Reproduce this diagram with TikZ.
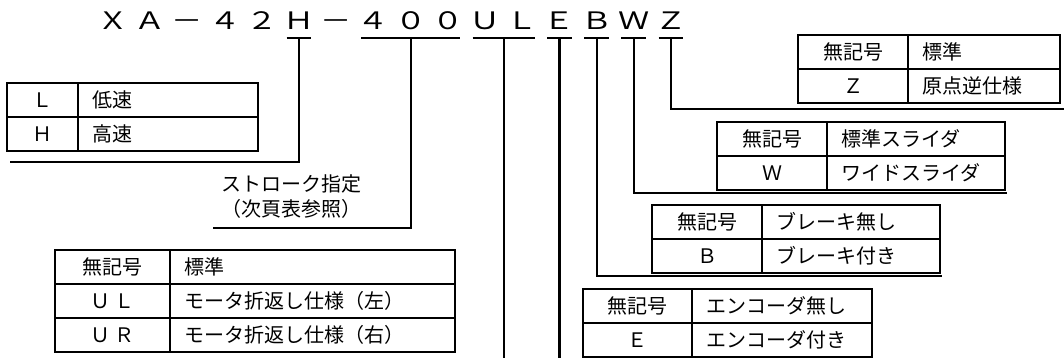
\documentclass[tikz,border=0pt]{standalone}
\usepackage{fontspec}
\usetikzlibrary{calc}
\newfontfamily\cjk{Noto Sans CJK JP}
\newfontfamily\titlefont[FakeStretch=1.3]{Noto Sans CJK JP}

\begin{document}
\begin{tikzpicture}[x=0.5pt, y=-0.5pt,
    title char/.style={font=\titlefont\fontsize{12}{14}\selectfont, anchor=base, inner xsep=-1.8pt, inner ysep=4pt, text height=9pt, text depth=0pt},
    key cell/.style={draw, line width=0.9pt, font=\cjk\fontsize{10}{12.5}\selectfont, minimum height=17pt, inner sep=0pt, text height=8.3pt, text depth=0.7pt},
    text cell/.style={key cell, align=left, inner xsep=7pt},
    lead/.style={line width=1.1pt}]
                \useasboundingbox (0,0) rectangle (1064,358);

                % model code
                \node[title char] at (113,30) (t1) {Ｘ};
                \node[title char] at (150.2,30) (t2) {Ａ};
                \node[title char] at (187.4,30) (t3) {－};
                \node[title char] at (224.6,30) (t4) {４};
                \node[title char] at (261.8,30) (t5) {２};
                \node[title char] at (299,30) (t6) {Ｈ};
                \node[title char] at (336.2,30) (t7) {－};
                \node[title char] at (373.4,30) (t8) {４};
                \node[title char] at (410.6,30) (t9) {０};
                \node[title char] at (447.8,30) (t10) {０};
                \node[title char] at (485,30) (t11) {Ｕ};
                \node[title char] at (522.2,30) (t12) {Ｌ};
                \node[title char] at (559.4,30) (t13) {Ｅ};
                \node[title char] at (596.6,30) (t14) {Ｂ};
                \node[title char] at (633.8,30) (t15) {Ｗ};
                \node[title char] at (671,30) (t16) {Ｚ};

                % speed
                \node[key cell, minimum width=35.5pt] at (42.5,100) (lh1) {Ｌ};
                \node[text cell, text width=76pt] at (168,100) (lh2) {低速};
                \node[key cell, minimum width=35.5pt] at (42.5,134) (lh3) {Ｈ};
                \node[text cell, text width=76pt] at (168,134) (lh4) {高速};

                % stroke
                \node[font=\cjk\fontsize{10}{12.5}\selectfont, align=center] at (291,197) (stroke) {ストローク指定\\（次頁表参照）};

                % motor
                \node[key cell, minimum width=57.5pt] at (112.5,267) (ul1) {無記号};
                \node[text cell, text width=128.5pt] at (312.5,267) (ul2) {標準};
                \node[key cell, minimum width=57.5pt] at (112.5,301) (ul3) {Ｕ Ｌ};
                \node[text cell, text width=128.5pt] at (312.5,301) (ul4) {モータ折返し仕様（左）};
                \node[key cell, minimum width=57.5pt] at (112.5,335) (ul5) {Ｕ Ｒ};
                \node[text cell, text width=128.5pt] at (312.5,335) (ul6) {モータ折返し仕様（右）};

                % encoder
                \node[key cell, minimum width=54.5pt] at (637.5,306) (e1) {無記号};
                \node[text cell, text width=76pt] at (782,306) (e2) {エンコーダ無し};
                \node[key cell, minimum width=54.5pt] at (637.5,340) (e3) {Ｅ};
                \node[text cell, text width=76pt] at (782,340) (e4) {エンコーダ付き};

                % brake
                \node[key cell, minimum width=55pt] at (707,222) (b1) {無記号};
                \node[text cell, text width=75pt] at (851,222) (b2) {ブレーキ無し};
                \node[key cell, minimum width=55pt] at (707,256) (b3) {Ｂ};
                \node[text cell, text width=75pt] at (851,256) (b4) {ブレーキ付き};

                % slider
                \node[key cell, minimum width=55pt] at (772,139) (w1) {無記号};
                \node[text cell, text width=75pt] at (916,139) (w2) {標準スライダ};
                \node[key cell, minimum width=55pt] at (772,173) (w3) {Ｗ};
                \node[text cell, text width=75pt] at (916,173) (w4) {ワイドスライダ};

                % origin
                \node[key cell, minimum width=55pt] at (853,52) (z1) {無記号};
                \node[text cell, text width=62pt] at (984,52) (z2) {標準};
                \node[key cell, minimum width=55pt] at (853,86) (z3) {Ｚ};
                \node[text cell, text width=62pt] at (984,86) (z4) {原点逆仕様};

                \coordinate (bottom) at (0,358);
                \coordinate (hEnd) at (10,162);
                \coordinate (sEnd) at (213,228);
                \coordinate (bEnd) at (942,276);
                \coordinate (wEnd) at (1007,193);
                \coordinate (zEnd) at (1064,109);
                \coordinate (ul) at ($(t11.south)!.5!(t12.south)$);

            \draw[lead] (t6.south west) -- (t6.south east);
            \draw[lead] (t8.south west) -- (t10.south east);
            \draw[lead] (t11.south west) -- (t12.south east);
            \draw[lead] (t13.south west) -- (t13.south east);
            \draw[lead] (t14.south west) -- (t14.south east);
            \draw[lead] (t15.south west) -- (t15.south east);
            \draw[lead] (t16.south west) -- (t16.south east);

            \draw[lead] (t6.south) |- (hEnd);
            \draw[lead] (t9.south) |- (sEnd);
            \draw[lead] (ul) -- (ul |- bottom);
            \draw[lead] (t13.south) -- (t13.south |- bottom);
            \draw[lead] (t14.south) |- (bEnd);
            \draw[lead] (t15.south) |- (wEnd);
            \draw[lead] (t16.south) |- (zEnd);

            \end{tikzpicture}
\end{document}
